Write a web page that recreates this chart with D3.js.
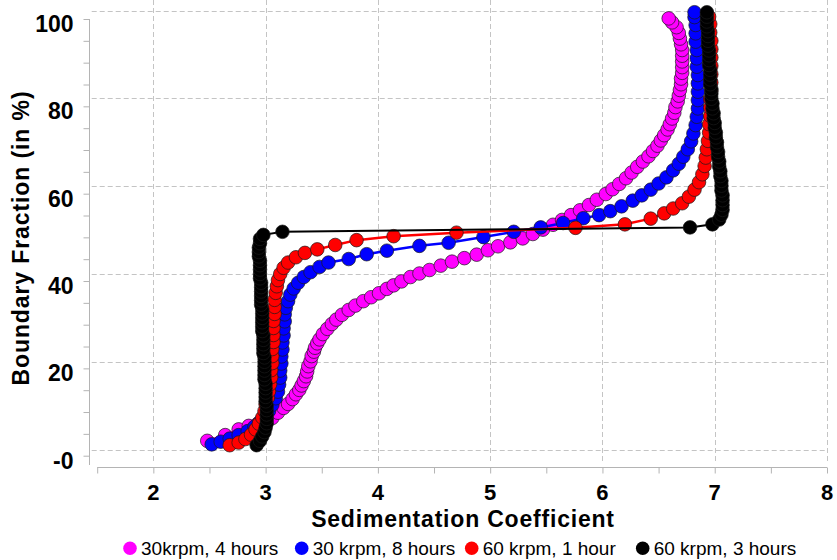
<!DOCTYPE html>
<html><head><meta charset="utf-8">
<script src="https://cdn.jsdelivr.net/npm/d3@7"></script>
<style>body{margin:0;background:#fff}svg{display:block}</style>
</head><body><svg id="c" width="837" height="560"></svg>
<script>
const seriesNames = ["30krpm, 4 hours", "30 krpm, 8 hours", "60 krpm, 1 hour", "60 krpm, 3 hours"];
const seriesColors = ["#ff00ff", "#0000ff", "#ff0000", "#000000"];
const xTicks = [2, 3, 4, 5, 6, 7, 8];
const yTicks = [0, 20, 40, 60, 80, 100];
const yTickLabels = ["-0", "20", "40", "60", "80", "100"];
const xTitle = "Sedimentation Coefficient";
const yTitle = "Boundary Fraction (in %)";

// [sedimentation coefficient, boundary fraction %]
const run30k4h = [[2.48,2.0],[2.64,3.3],[2.76,4.6],[2.85,5.4],[2.93,5.9],[3.00,6.5],[3.06,7.2],[3.11,8.4],[3.16,9.5],[3.20,10.4],[3.24,11.5],[3.27,12.6],[3.30,13.6],[3.32,14.6],[3.34,15.6],[3.36,16.7],[3.37,17.8],[3.38,19.0],[3.40,20.1],[3.41,21.3],[3.43,22.3],[3.44,23.2],[3.46,24.2],[3.48,25.1],[3.51,26.3],[3.55,27.5],[3.59,28.6],[3.63,29.6],[3.68,30.7],[3.74,31.8],[3.80,32.8],[3.87,33.8],[3.94,34.7],[4.01,35.6],[4.08,36.6],[4.14,37.4],[4.21,38.3],[4.29,39.3],[4.37,40.1],[4.46,40.9],[4.56,41.9],[4.66,42.8],[4.77,43.6],[4.88,44.4],[4.98,45.4],[5.07,46.3],[5.18,47.2],[5.29,48.1],[5.38,49.1],[5.47,50.1],[5.56,51.2],[5.64,52.3],[5.72,53.4],[5.80,54.5],[5.88,55.7],[5.95,56.9],[6.03,58.2],[6.09,59.3],[6.15,60.5],[6.21,61.8],[6.26,63.1],[6.31,64.4],[6.36,65.6],[6.41,66.8],[6.45,68.0],[6.49,69.2],[6.52,70.4],[6.55,71.6],[6.58,72.9],[6.60,74.1],[6.62,75.4],[6.64,76.7],[6.65,78.0],[6.67,79.3],[6.68,80.6],[6.69,81.9],[6.70,83.2],[6.70,84.5],[6.71,85.8],[6.71,87.1],[6.71,88.4],[6.71,89.7],[6.71,91.0],[6.70,92.3],[6.69,93.6],[6.68,94.9],[6.66,96.2],[6.62,97.3],[6.59,98.2]];

const run30k8h = [[2.52,1.2],[2.60,1.8],[2.68,2.5],[2.76,3.3],[2.84,4.2],[2.90,5.2],[2.95,6.3],[2.99,7.5],[3.03,8.8],[3.06,10.2],[3.09,11.7],[3.11,13.2],[3.12,14.8],[3.13,16.4],[3.13,18.0],[3.14,19.6],[3.14,21.2],[3.15,22.8],[3.15,24.4],[3.16,26.0],[3.16,27.6],[3.17,29.2],[3.17,30.8],[3.18,32.3],[3.20,33.8],[3.22,35.3],[3.25,36.7],[3.29,38.0],[3.34,39.3],[3.40,40.4],[3.48,41.6],[3.56,42.6],[3.74,43.4],[3.90,44.5],[4.08,45.3],[4.37,46.4],[4.63,47.1],[4.94,48.4],[5.21,49.6],[5.45,50.6],[5.65,51.6],[5.83,52.7],[5.97,53.4],[6.07,54.3],[6.17,55.4],[6.27,56.7],[6.35,57.9],[6.43,59.2],[6.50,60.6],[6.57,62.0],[6.63,63.6],[6.68,65.1],[6.72,66.7],[6.76,68.4],[6.79,70.2],[6.81,72.0],[6.83,73.9],[6.84,75.8],[6.85,77.7],[6.85,79.6],[6.85,81.5],[6.85,83.4],[6.85,85.3],[6.84,87.2],[6.84,89.1],[6.84,91.0],[6.83,92.9],[6.83,94.8],[6.83,96.7],[6.82,98.5],[6.82,99.6]];

const run60k1h = [[2.68,1.0],[2.76,1.6],[2.82,2.4],[2.87,3.4],[2.91,4.6],[2.94,5.9],[2.97,7.3],[2.99,8.8],[3.00,10.3],[3.02,11.8],[3.03,13.3],[3.04,14.9],[3.05,16.5],[3.05,18.1],[3.06,19.7],[3.06,21.3],[3.06,22.9],[3.07,24.5],[3.07,26.1],[3.07,27.7],[3.07,29.3],[3.08,30.9],[3.08,32.5],[3.08,34.1],[3.09,35.7],[3.10,37.2],[3.11,38.6],[3.13,40.0],[3.16,41.4],[3.20,42.6],[3.27,43.8],[3.35,44.8],[3.46,45.6],[3.62,46.6],[3.81,47.7],[4.14,48.6],[4.70,49.4],[5.76,50.5],[6.20,51.3],[6.43,52.6],[6.55,53.8],[6.63,54.9],[6.71,56.1],[6.77,57.6],[6.82,59.2],[6.86,60.9],[6.89,62.7],[6.91,64.6],[6.92,66.5],[6.93,68.4],[6.94,70.3],[6.95,72.2],[6.95,74.1],[6.96,76.0],[6.96,77.9],[6.96,79.8],[6.97,81.7],[6.97,83.6],[6.97,85.5],[6.97,87.4],[6.97,89.3],[6.97,91.2],[6.97,93.1],[6.96,95.0],[6.96,96.9],[6.95,98.6]];

const run60k3h = [[2.92,1.0],[2.95,2.0],[2.97,3.0],[2.99,4.0],[3.00,5.0],[3.01,6.0],[3.01,7.0],[3.01,8.0],[3.01,9.0],[3.01,10.0],[3.00,11.0],[3.00,12.0],[3.00,13.0],[3.00,14.0],[3.00,15.0],[2.99,16.0],[2.99,17.0],[2.99,18.0],[2.99,19.0],[2.99,20.0],[2.99,21.0],[2.98,22.0],[2.98,23.0],[2.98,24.0],[2.98,25.0],[2.98,26.0],[2.97,27.0],[2.97,28.0],[2.97,29.0],[2.97,30.0],[2.97,31.0],[2.97,32.0],[2.96,33.0],[2.96,34.0],[2.96,35.0],[2.96,36.0],[2.96,37.0],[2.96,38.0],[2.95,39.0],[2.95,40.0],[2.95,41.0],[2.95,42.0],[2.95,43.0],[2.94,44.0],[2.94,45.0],[2.94,46.0],[2.95,47.0],[2.95,48.0],[2.98,48.9],[3.15,49.6],[6.78,50.6],[6.98,51.3],[7.04,52.4],[7.06,53.5],[7.07,54.6],[7.07,55.7],[7.07,56.8],[7.07,57.9],[7.06,59.0],[7.06,60.1],[7.06,61.2],[7.05,62.3],[7.05,63.4],[7.04,64.5],[7.04,65.6],[7.03,66.7],[7.03,67.8],[7.02,68.9],[7.02,70.0],[7.01,71.1],[7.01,72.2],[7.00,73.3],[7.00,74.4],[6.99,75.5],[6.99,76.6],[6.98,77.7],[6.98,78.8],[6.97,79.9],[6.97,81.0],[6.97,82.1],[6.96,83.2],[6.96,84.3],[6.96,85.4],[6.96,86.5],[6.95,87.6],[6.95,88.7],[6.95,89.8],[6.95,90.9],[6.94,92.0],[6.94,93.1],[6.94,94.2],[6.94,95.3],[6.93,96.4],[6.93,97.5],[6.93,98.6],[6.93,99.6]];

const allSeries = [run30k4h, run30k8h, run60k1h, run60k3h];

// ---- layout ----
const svg = d3.select("#c");
const x = d3.scaleLinear().domain([1.5, 8]).range([97.2, 827]);
const y = d3.scaleLinear().domain([0, 100]).range([449.6, 10.5]);
// axis ruler is drawn slightly offset from the grid (as in the original)
const yAxisScale = d3.scaleLinear().domain([0, 100]).range([455.7, 19]);
const gridLeft = 91.7, gridRight = 828, gridTop = 0, gridBottom = 462;
const axisColor = "#b4b4b4";

// grid
const grid = svg.append("g").attr("stroke", "#c4c4c4").attr("stroke-width", 1).attr("stroke-dasharray", "5,3");
grid.selectAll("line.v").data(xTicks).join("line").attr("class", "v")
  .attr("x1", d => Math.round(x(d)) + 0.5).attr("x2", d => Math.round(x(d)) + 0.5)
  .attr("y1", gridTop).attr("y2", gridBottom);
grid.selectAll("line.h").data(yTicks).join("line").attr("class", "h")
  .attr("y1", d => Math.round(y(d)) + 0.5).attr("y2", d => Math.round(y(d)) + 0.5)
  .attr("x1", gridLeft).attr("x2", gridRight);

// x axis
const xAxisY = 467.5;
const xAx = svg.append("g").attr("transform", `translate(0,${xAxisY})`)
  .call(d3.axisBottom(x).tickValues(d3.range(1.5, 8.01, 0.5)).tickSize(6).tickFormat(""));
xAx.select(".domain").attr("stroke", axisColor).attr("d", `M${x(1.5)},0H${x(8)}`);
xAx.selectAll(".tick line").attr("stroke", axisColor);
svg.append("g").selectAll("text").data(xTicks).join("text")
  .attr("x", d => x(d)).attr("y", 500)
  .attr("text-anchor", "middle")
  .style("font", "bold 22px 'Liberation Sans', Arial, sans-serif")
  .text(d => d);

// y axis
const yAxisX = 89.5;
const yAx = svg.append("g").attr("transform", `translate(${yAxisX},0)`)
  .call(d3.axisLeft(yAxisScale).tickValues(d3.range(0, 100.01, 5)).tickSize(6).tickFormat(""));
yAx.select(".domain").attr("stroke", axisColor).attr("d", `M0,${yAxisScale(100)}V465`);
yAx.selectAll(".tick line").attr("stroke", axisColor);
svg.append("g").selectAll("text").data(yTicks).join("text")
  .attr("x", 73.5).attr("y", d => yAxisScale(d) + 13)
  .attr("text-anchor", "end")
  .style("font", "bold 23px 'Liberation Sans', Arial, sans-serif")
  .text((d, i) => yTickLabels[i]);

// titles
svg.append("text").attr("x", 463).attr("y", 527).attr("text-anchor", "middle")
  .style("font", "bold 23px 'Liberation Sans', Arial, sans-serif").style("letter-spacing", "0.8px")
  .text(xTitle);
svg.append("text").attr("transform", "translate(28.5,238) rotate(-90)").attr("text-anchor", "middle")
  .style("font", "bold 23px 'Liberation Sans', Arial, sans-serif").style("letter-spacing", "0.9px")
  .text(yTitle);

// series
const line = d3.line().x(d => x(d[0])).y(d => y(d[1]));
allSeries.forEach((data, i) => {
  const g = svg.append("g");
  g.append("path").datum(data).attr("d", line)
    .attr("fill", "none").attr("stroke", seriesColors[i]).attr("stroke-width", i === 3 ? 2 : 2.5);
  g.selectAll("circle").data(data).join("circle")
    .attr("cx", d => x(d[0])).attr("cy", d => y(d[1])).attr("r", 6.8)
    .attr("fill", seriesColors[i]).attr("stroke", "#1a1a1a").attr("stroke-width", 0.7);
});

// legend
const legendX = [130, 301.7, 471.7, 642.7];
const leg = svg.append("g").selectAll("g").data(seriesNames).join("g")
  .attr("transform", (d, i) => `translate(${legendX[i]},548.3)`);
leg.append("circle").attr("r", 6.8).attr("fill", (d, i) => seriesColors[i]);
leg.append("text").attr("x", 11).attr("y", 6.7)
  .style("font", "19px 'Liberation Sans', Arial, sans-serif").attr("fill", "#000")
  .text(d => d);
</script></body></html>
